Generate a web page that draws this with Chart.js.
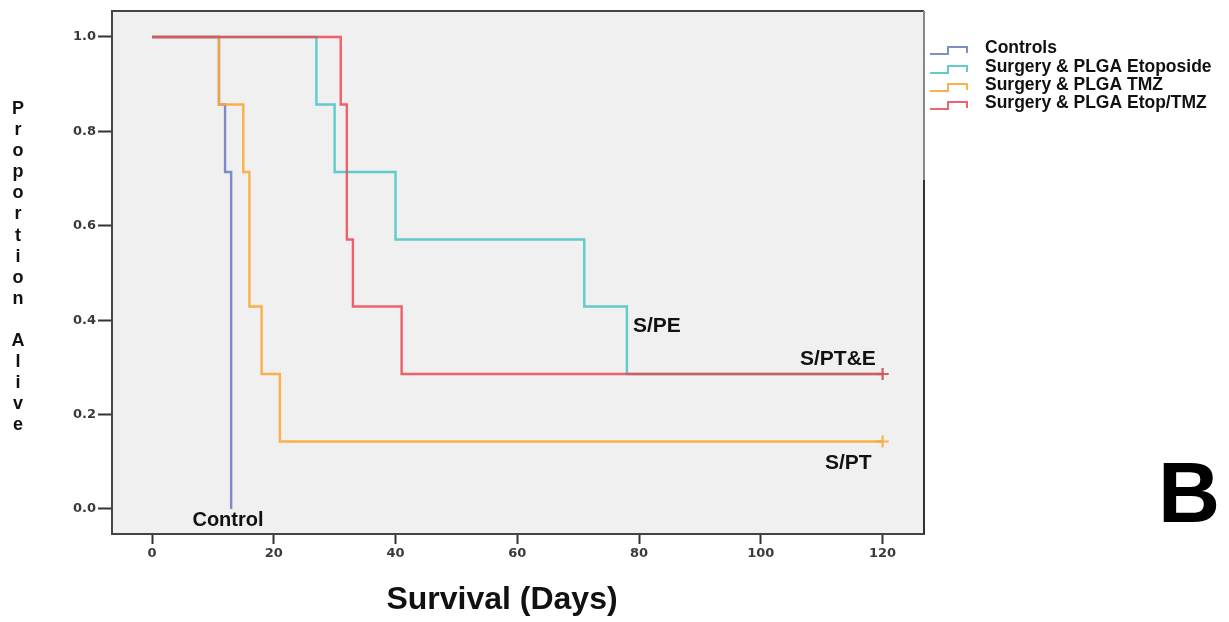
<!DOCTYPE html>
<html>
<head>
<meta charset="utf-8">
<script src="https://cdn.jsdelivr.net/npm/chart.js@4"></script>
<style>
  html, body { margin: 0; padding: 0; background: #fff; }
  canvas { display: block; }
</style>
</head>
<body>
<canvas id="myChart" width="1229" height="622"></canvas>
<script>
// Kaplan-Meier curves (n = 7 per group)
const controlsDays = [0, 11, 12, 13];
const controlsSurv = [1, 0.857, 0.714, 0];

const etopDays = [0, 27, 30, 40, 71, 78, 120];
const etopSurv = [1, 0.857, 0.714, 0.571, 0.429, 0.286, 0.286];

const tmzDays = [0, 11, 15, 16, 18, 21, 120];
const tmzSurv = [1, 0.857, 0.714, 0.429, 0.286, 0.143, 0.143];

const comboDays = [0, 31, 32, 33, 41, 120];
const comboSurv = [1, 0.857, 0.571, 0.429, 0.286, 0.286];

const seriesLabels = ['Controls', 'Surgery & PLGA Etoposide', 'Surgery & PLGA TMZ', 'Surgery & PLGA Etop/TMZ'];
const seriesColors = ['rgba(95,112,190,0.8)', 'rgba(80,198,198,0.9)', 'rgba(250,168,55,0.9)', 'rgba(236,72,84,0.85)'];

const xTicks = [0, 20, 40, 60, 80, 100, 120];
const yTicks = [0, 0.2, 0.4, 0.6, 0.8, 1.0];

function pts(days, surv) {
    return days.map((d, i) => ({ x: d, y: surv[i] }));
}
// censor mark (+) only on the last point of curves that end at 120
function censor(days) {
    return days.map((d, i) => (i === days.length - 1 && d === 120 ? 6 : 0));
}

const groups = [
    [controlsDays, controlsSurv, 3],
    [etopDays, etopSurv, 1],
    [tmzDays, tmzSurv, 2],
    [comboDays, comboSurv, 0],
];

const datasets = groups.map(([d, s, ord], i) => ({
    label: seriesLabels[i],
    data: pts(d, s),
    stepped: true,
    borderColor: seriesColors[i],
    borderWidth: 2.4,
    fill: false,
    pointStyle: 'cross',
    pointRadius: censor(d),
    pointBorderColor: seriesColors[i],
    pointBorderWidth: 2,
    order: ord,
}));

const ctx = document.getElementById('myChart').getContext('2d');

new Chart(ctx, {
    type: 'line',
    data: { datasets: datasets },
    options: {
        responsive: false,
        animation: false,
        events: [],
        layout: { padding: { top: 11, right: 305, left: 0, bottom: 0 } },
        plugins: {
            legend: { display: false },
            tooltip: { enabled: false },
        },
        scales: {
            x: {
                type: 'linear',
                min: -6.57,
                max: 126.8,
                afterBuildTicks: (s) => { s.ticks = xTicks.map(v => ({ value: v })); },
                afterFit: (s) => { s.height = 88; },
                ticks: {
                    color: '#3a3a3a',
                    padding: 2,
                    font: { family: 'DejaVu Sans', size: 13, weight: 'bold' },
                    callback: (v) => v,
                },
                grid: { drawOnChartArea: false, drawTicks: true, tickLength: 10, tickColor: '#333', tickWidth: 2 },
                border: { display: true, color: '#444', width: 2 },
            },
            y: {
                min: -0.053,
                max: 1.055,
                afterBuildTicks: (s) => { s.ticks = yTicks.map(v => ({ value: v })); },
                afterFit: (s) => { s.width = 112; },
                ticks: {
                    color: '#3a3a3a',
                    padding: 2,
                    font: { family: 'DejaVu Sans', size: 13, weight: 'bold' },
                    callback: (v) => Number(v).toFixed(1),
                },
                grid: { drawOnChartArea: false, drawTicks: true, tickLength: 14, tickColor: '#333', tickWidth: 2 },
                border: { display: true, color: '#444', width: 2 },
            },
        },
    },
    plugins: [
        {
            id: 'background-color',
            beforeDraw: (chart) => {
                const c = chart.ctx;
                const a = chart.chartArea;
                c.save();
                c.fillStyle = '#ffffff';
                c.fillRect(0, 0, chart.width, chart.height);
                c.fillStyle = '#f0f0f0';
                c.fillRect(a.left, a.top, a.right - a.left, a.bottom - a.top);
                c.restore();
            },
        },
        {
            id: 'frame-and-texts',
            afterDraw: (chart) => {
                const c = chart.ctx;
                const a = chart.chartArea;
                c.save();
                // frame top + right
                c.strokeStyle = '#444';
                c.lineWidth = 2;
                c.beginPath();
                c.moveTo(a.left, a.top);
                c.lineTo(a.right, a.top);
                c.stroke();
                c.strokeStyle = '#888';
                c.beginPath();
                c.moveTo(a.right, a.top);
                c.lineTo(a.right, 180);
                c.stroke();
                c.strokeStyle = '#333';
                c.beginPath();
                c.moveTo(a.right, 180);
                c.lineTo(a.right, a.bottom);
                c.stroke();

                // axis titles
                c.fillStyle = '#111';
                c.textAlign = 'center';
                c.textBaseline = 'middle';
                c.font = 'bold 32px "Liberation Sans", Arial, sans-serif';
                c.fillText('Survival (Days)', 502, 600);

                c.font = 'bold 18px "Liberation Sans", Arial, sans-serif';
                const yTitle = 'Proportion Alive';
                for (let i = 0; i < yTitle.length; i++) {
                    c.fillText(yTitle[i], 18, 109 + i * 21.1);
                }

                // curve labels
                c.font = 'bold 20px "Liberation Sans", Arial, sans-serif';
                c.fillText('Control', 228, 520);
                c.textAlign = 'left';
                c.font = 'bold 21px "Liberation Sans", Arial, sans-serif';
                c.fillText('S/PE', 633, 326);
                c.fillText('S/PT&E', 800, 359);
                c.fillText('S/PT', 825, 463);

                // panel letter
                c.font = 'bold 86px "Liberation Sans", Arial, sans-serif';
                c.textAlign = 'center';
                c.fillStyle = '#000';
                c.fillText('B', 1189, 498);

                // legend with step symbols
                c.font = 'bold 17.5px "Liberation Sans", Arial, sans-serif';
                c.textAlign = 'left';
                const rows = [48, 67, 85, 103];
                chart.data.datasets.forEach((ds, i) => {
                    const y = rows[i];
                    c.strokeStyle = ds.borderColor;
                    c.lineWidth = 2;
                    c.beginPath();
                    c.moveTo(930, y + 6);
                    c.lineTo(948, y + 6);
                    c.lineTo(948, y - 1);
                    c.lineTo(967, y - 1);
                    c.lineTo(967, y + 5);
                    c.stroke();
                    c.fillStyle = '#111';
                    c.fillText(ds.label, 985, y);
                });
                c.restore();
            },
        },
    ],
});
</script>
</body>
</html>
